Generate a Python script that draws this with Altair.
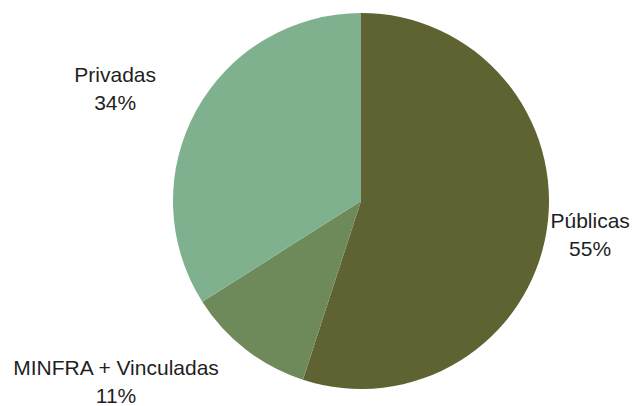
import altair as alt
import pandas as pd

categories = ["Públicas", "MINFRA + Vinculadas", "Privadas"]
values = [55, 11, 34]
order_idx = [0, 1, 2]
colors = ["#5f6332", "#6e8a5a", "#7fb18e"]

df = pd.DataFrame({"cat": categories, "val": values, "idx": order_idx})

base = alt.Chart(df)

theta_scale = alt.Scale(domain=[0, 100])

arc = base.mark_arc(outerRadius=188, strokeWidth=0).encode(
    theta=alt.Theta("val:Q", stack=True, scale=theta_scale),
    color=alt.Color("cat:N", scale=alt.Scale(domain=categories, range=colors), legend=None),
    order=alt.Order("idx:Q"),
)


def label(cat, r, dx, dy):
    return (
        base.transform_window(
            cum="sum(val)", sort=[alt.SortField("idx")], frame=[None, 0]
        )
        .transform_calculate(
            mid="datum.cum - datum.val / 2",
            label="datum.cat + '\\n' + datum.val + '%'",
        )
        .transform_filter(alt.datum.cat == cat)
        .mark_text(
            radius=r, dx=dx, dy=dy, fontSize=21, font="Liberation Sans",
            lineBreak="\n", lineHeight=28, align="center", baseline="middle",
            color="#1f1f1f",
        )
        .encode(
            theta=alt.Theta("mid:Q", stack=None, scale=theta_scale),
            text="label:N",
        )
    )


chart = (
    alt.layer(
        arc,
        label("Públicas", 233, -1, -15),
        label("Privadas", 268, -11, 4),
        label("MINFRA + Vinculadas", 230, -104, -14),
    )
    .properties(
        width=546,
        height=376,
        padding={"left": 88, "right": 0, "top": 13, "bottom": 17},
        autosize=alt.AutoSizeParams(type="none"),
        background="white",
    )
    .configure_view(stroke=None)
)

chart.save("out.html", embed_options={"renderer": "svg", "actions": False})
